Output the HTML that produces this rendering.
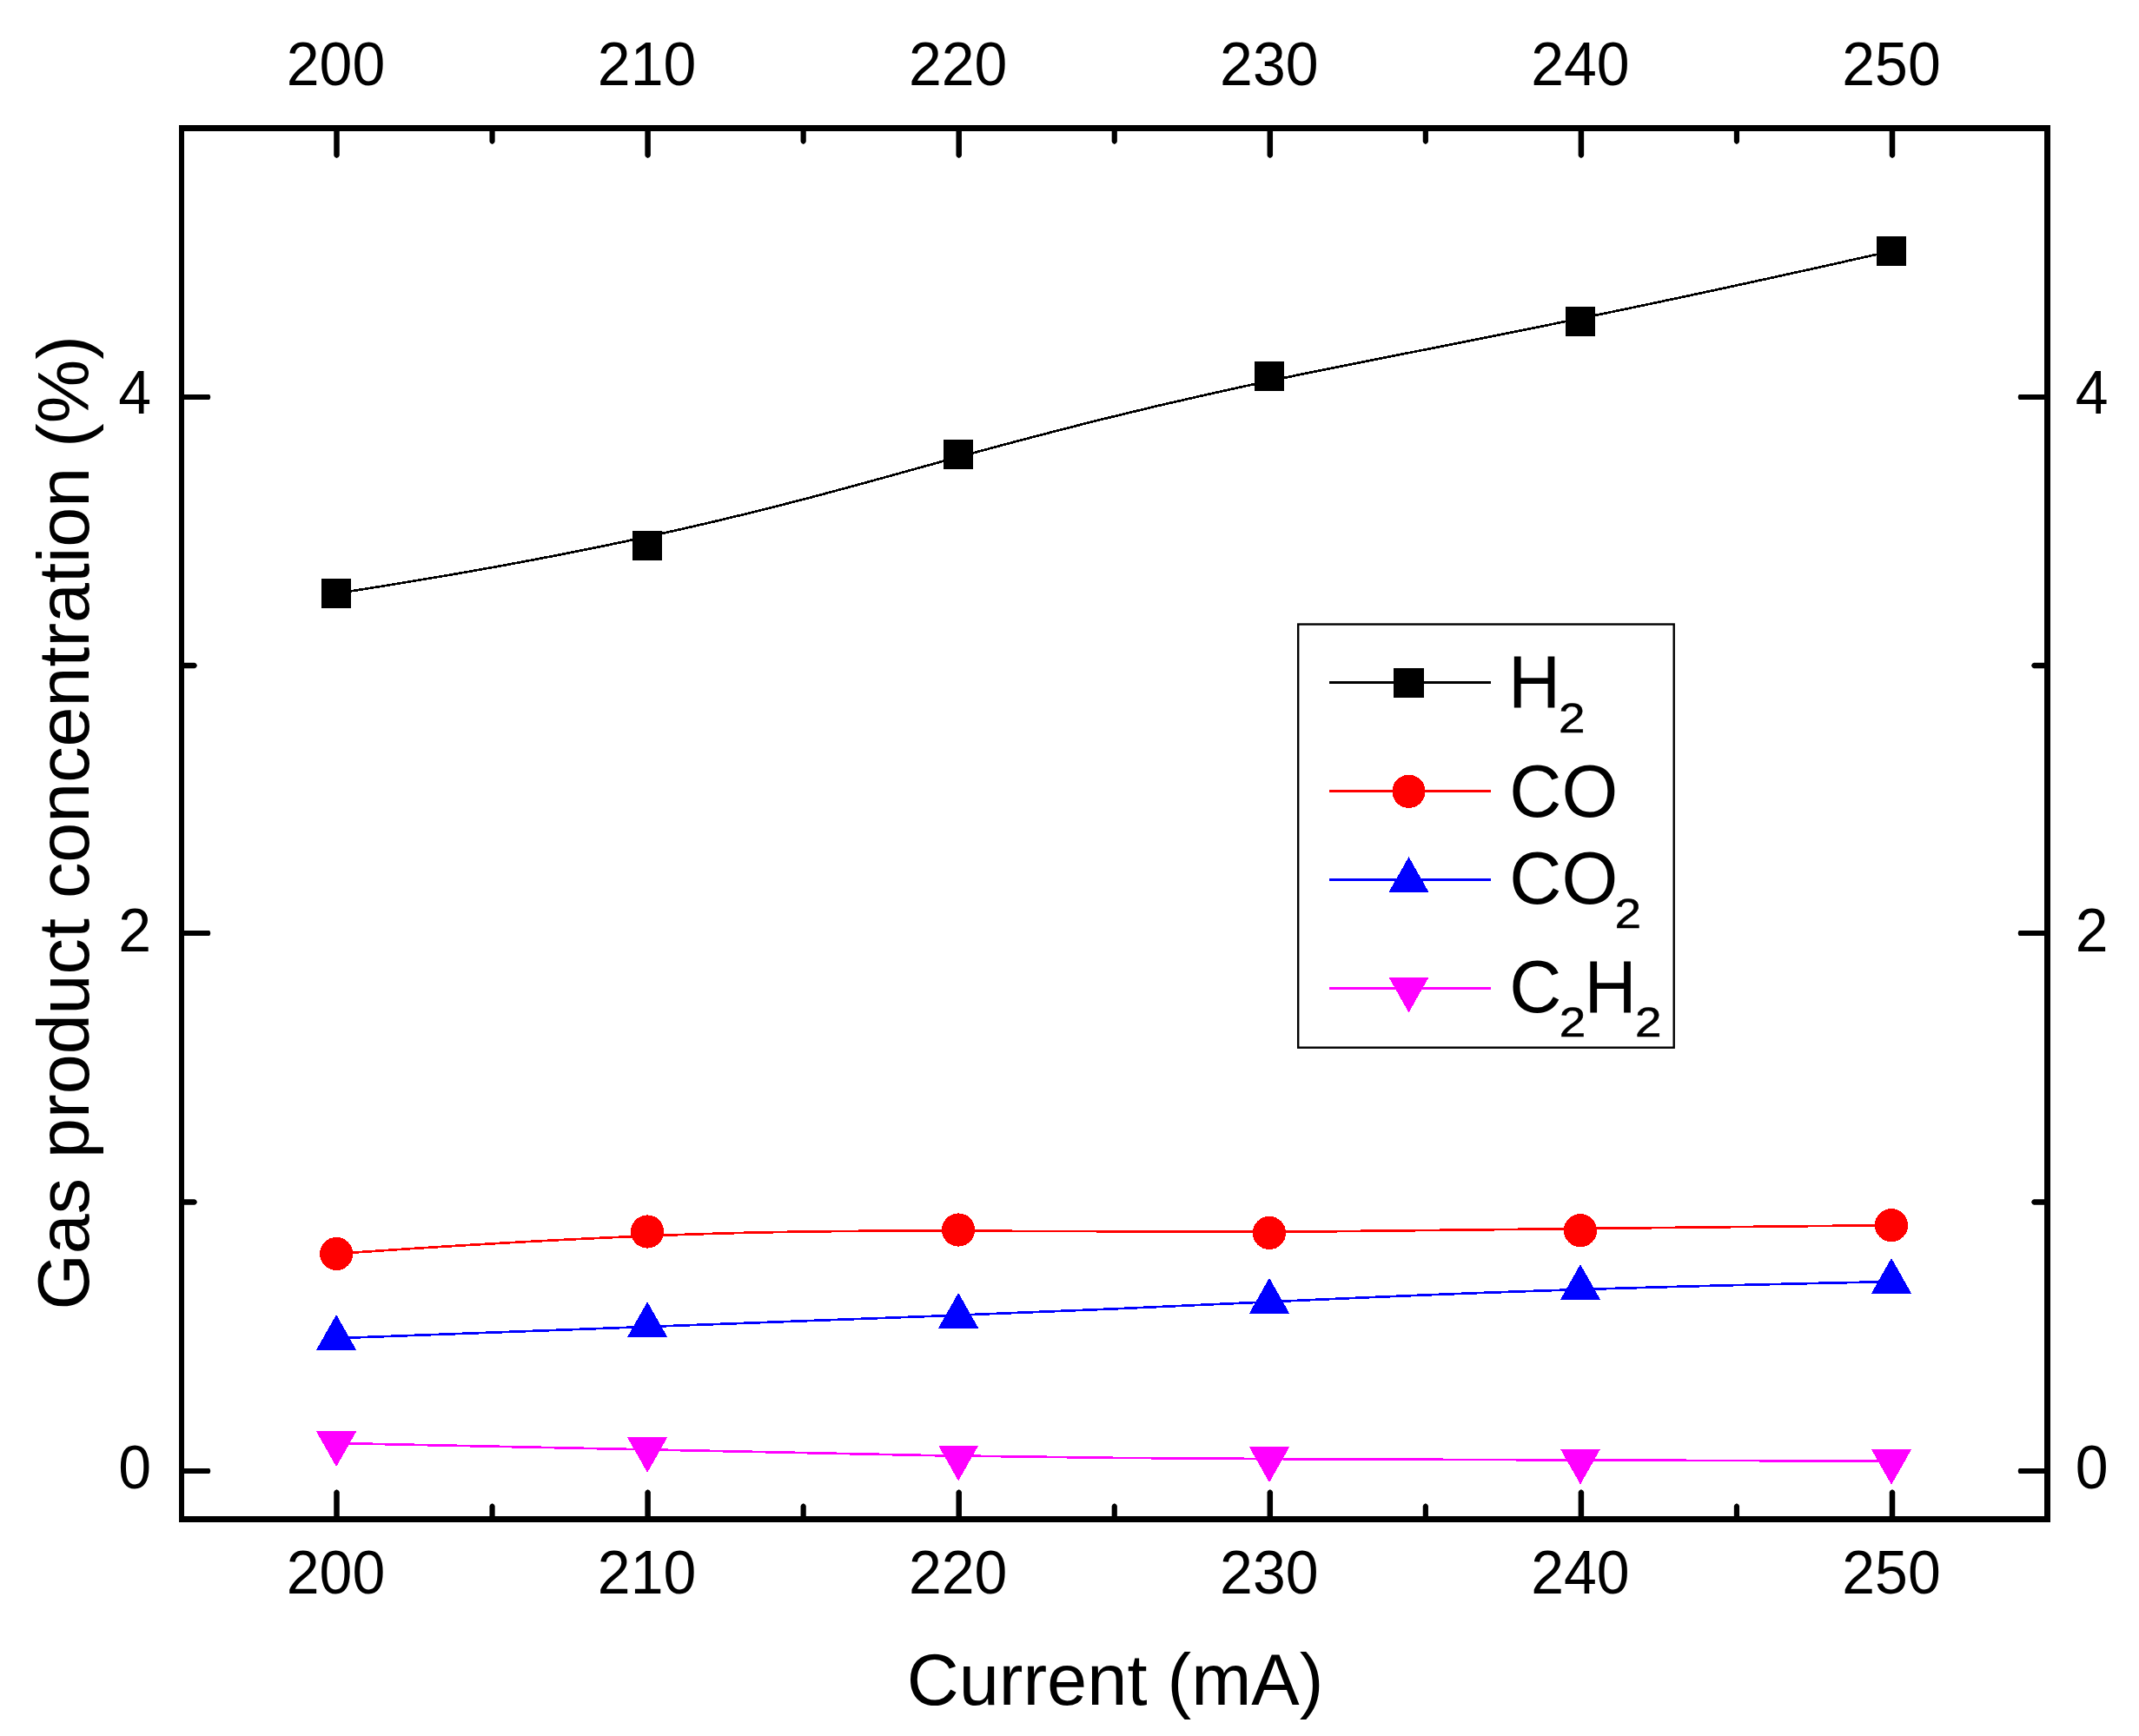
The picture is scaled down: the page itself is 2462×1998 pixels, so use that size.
<!DOCTYPE html>
<html><head><meta charset="utf-8"><title>Gas product concentration vs Current</title>
<style>html,body{margin:0;padding:0;background:#fff}svg{display:block}</style></head>
<body>
<svg width="2462" height="1998" viewBox="0 0 2462 1998" font-family="'Liberation Sans', sans-serif" fill="#000">
<rect x="0" y="0" width="2462" height="1998" fill="#fff"/>
<g shape-rendering="crispEdges">
<path d="M387.10 683.00 C745.08 628.00 924.07 575.45 1073.23 534.19 C1222.39 492.93 1341.71 462.97 1490.87 432.21 C1640.03 401.45 1819.02 369.90 2177.00 289.00" fill="none" stroke="#000" stroke-width="2.7"/>
<rect x="370.0" y="665.9" width="34.2" height="34.2" fill="#000"/>
<rect x="728.0" y="610.9" width="34.2" height="34.2" fill="#000"/>
<rect x="1086.0" y="505.8" width="34.2" height="34.2" fill="#000"/>
<rect x="1443.9" y="415.9" width="34.2" height="34.2" fill="#000"/>
<rect x="1801.9" y="352.8" width="34.2" height="34.2" fill="#000"/>
<rect x="2159.9" y="271.9" width="34.2" height="34.2" fill="#000"/>
<path d="M387.10 1443.00 C745.08 1417.50 924.07 1416.50 1073.23 1416.58 C1222.39 1416.67 1341.71 1417.83 1490.87 1417.69 C1640.03 1417.55 1819.02 1416.10 2177.00 1410.10" fill="none" stroke="#f00" stroke-width="2.7"/>
<circle cx="387.1" cy="1443.0" r="19.1" fill="#f00"/>
<circle cx="745.1" cy="1417.5" r="19.1" fill="#f00"/>
<circle cx="1103.1" cy="1415.5" r="19.1" fill="#f00"/>
<circle cx="1461.0" cy="1419.0" r="19.1" fill="#f00"/>
<circle cx="1819.0" cy="1416.1" r="19.1" fill="#f00"/>
<circle cx="2177.0" cy="1410.1" r="19.1" fill="#f00"/>
<path d="M387.10 1540.20 C745.08 1525.40 924.07 1520.25 1073.23 1514.83 C1222.39 1509.40 1341.71 1503.70 1490.87 1496.93 C1640.03 1490.15 1819.02 1482.30 2177.00 1475.10" fill="none" stroke="#00f" stroke-width="2.7"/>
<polygon points="364.0,1553.8 410.2,1553.8 387.1,1513.0" fill="#00f"/>
<polygon points="722.0,1539.0 768.2,1539.0 745.1,1498.2" fill="#00f"/>
<polygon points="1080.0,1528.7 1126.2,1528.7 1103.1,1487.9" fill="#00f"/>
<polygon points="1437.9,1511.6 1484.1,1511.6 1461.0,1470.8" fill="#00f"/>
<polygon points="1795.9,1495.9 1842.1,1495.9 1819.0,1455.1" fill="#00f"/>
<polygon points="2153.9,1488.7 2200.1,1488.7 2177.0,1447.9" fill="#00f"/>
<path d="M387.10 1661.00 C745.08 1667.70 924.07 1672.45 1073.23 1675.12 C1222.39 1677.80 1341.71 1678.40 1490.87 1679.25 C1640.03 1680.10 1819.02 1681.20 2177.00 1681.70" fill="none" stroke="#f0f" stroke-width="2.7"/>
<polygon points="364.0,1647.4 410.2,1647.4 387.1,1688.2" fill="#f0f"/>
<polygon points="722.0,1654.1 768.2,1654.1 745.1,1694.9" fill="#f0f"/>
<polygon points="1080.0,1663.6 1126.2,1663.6 1103.1,1704.4" fill="#f0f"/>
<polygon points="1437.9,1665.4 1484.1,1665.4 1461.0,1706.2" fill="#f0f"/>
<polygon points="1795.9,1667.6 1842.1,1667.6 1819.0,1708.4" fill="#f0f"/>
<polygon points="2153.9,1668.1 2200.1,1668.1 2177.0,1708.9" fill="#f0f"/>
</g>
<path d="M206 144H2360V1752H206Z M212 151V1745H2353V151Z" fill="#000" fill-rule="evenodd"/>
<path d="M384.25 150V179L385.25 180.80L387.50 182.00L389.75 180.80L390.75 179V150Z M384.25 1746V1717.2L385.25 1715.40L387.50 1714.20L389.75 1715.40L390.75 1717.2V1746Z M563.45 150V163L564.45 164.80L566.55 166.00L568.65 164.80L569.65 163V150Z M563.45 1746V1733.2L564.45 1731.40L566.55 1730.20L568.65 1731.40L569.65 1733.2V1746Z M742.35 150V179L743.35 180.80L745.60 182.00L747.85 180.80L748.85 179V150Z M742.35 1746V1717.2L743.35 1715.40L745.60 1714.20L747.85 1715.40L748.85 1717.2V1746Z M921.55 150V163L922.55 164.80L924.65 166.00L926.75 164.80L927.75 163V150Z M921.55 1746V1733.2L922.55 1731.40L924.65 1730.20L926.75 1731.40L927.75 1733.2V1746Z M1100.45 150V179L1101.45 180.80L1103.70 182.00L1105.95 180.80L1106.95 179V150Z M1100.45 1746V1717.2L1101.45 1715.40L1103.70 1714.20L1105.95 1715.40L1106.95 1717.2V1746Z M1279.65 150V163L1280.65 164.80L1282.75 166.00L1284.85 164.80L1285.85 163V150Z M1279.65 1746V1733.2L1280.65 1731.40L1282.75 1730.20L1284.85 1731.40L1285.85 1733.2V1746Z M1458.55 150V179L1459.55 180.80L1461.80 182.00L1464.05 180.80L1465.05 179V150Z M1458.55 1746V1717.2L1459.55 1715.40L1461.80 1714.20L1464.05 1715.40L1465.05 1717.2V1746Z M1637.75 150V163L1638.75 164.80L1640.85 166.00L1642.95 164.80L1643.95 163V150Z M1637.75 1746V1733.2L1638.75 1731.40L1640.85 1730.20L1642.95 1731.40L1643.95 1733.2V1746Z M1816.65 150V179L1817.65 180.80L1819.90 182.00L1822.15 180.80L1823.15 179V150Z M1816.65 1746V1717.2L1817.65 1715.40L1819.90 1714.20L1822.15 1715.40L1823.15 1717.2V1746Z M1995.85 150V163L1996.85 164.80L1998.95 166.00L2001.05 164.80L2002.05 163V150Z M1995.85 1746V1733.2L1996.85 1731.40L1998.95 1730.20L2001.05 1731.40L2002.05 1733.2V1746Z M2174.75 150V179L2175.75 180.80L2178.00 182.00L2180.25 180.80L2181.25 179V150Z M2174.75 1746V1717.2L2175.75 1715.40L2178.00 1714.20L2180.25 1715.40L2181.25 1717.2V1746Z M211 1689.95H241L241.78 1690.95L242.30 1693.00L241.78 1695.05L241 1696.05H211Z M2354 1689.95H2324L2323.22 1690.95L2322.70 1693.00L2323.22 1695.05L2324 1696.05H2354Z M211 1380.25H224L225.80 1381.25L227.00 1383.50L225.80 1385.75L224 1386.75H211Z M2354 1380.25H2341L2339.20 1381.25L2338.00 1383.50L2339.20 1385.75L2341 1386.75H2354Z M211 1070.95H241L241.78 1071.95L242.30 1074.00L241.78 1076.05L241 1077.05H211Z M2354 1070.95H2324L2323.22 1071.95L2322.70 1074.00L2323.22 1076.05L2324 1077.05H2354Z M211 762.75H224L225.80 763.75L227.00 766.00L225.80 768.25L224 769.25H211Z M2354 762.75H2341L2339.20 763.75L2338.00 766.00L2339.20 768.25L2341 769.25H2354Z M211 453.95H241L241.78 454.95L242.30 457.00L241.78 459.05L241 460.05H211Z M2354 453.95H2324L2323.22 454.95L2322.70 457.00L2323.22 459.05L2324 460.05H2354Z" fill="#000"/>
<g font-size="68">
<text transform="translate(386.5 97.7) scale(1 1.022)" text-anchor="middle">200</text>
<text transform="translate(386.5 1834.1) scale(1 1.022)" text-anchor="middle">200</text>
<text transform="translate(744.6 97.7) scale(1 1.022)" text-anchor="middle">210</text>
<text transform="translate(744.6 1834.1) scale(1 1.022)" text-anchor="middle">210</text>
<text transform="translate(1102.7 97.7) scale(1 1.022)" text-anchor="middle">220</text>
<text transform="translate(1102.7 1834.1) scale(1 1.022)" text-anchor="middle">220</text>
<text transform="translate(1460.8 97.7) scale(1 1.022)" text-anchor="middle">230</text>
<text transform="translate(1460.8 1834.1) scale(1 1.022)" text-anchor="middle">230</text>
<text transform="translate(1818.9 97.7) scale(1 1.022)" text-anchor="middle">240</text>
<text transform="translate(1818.9 1834.1) scale(1 1.022)" text-anchor="middle">240</text>
<text transform="translate(2177.0 97.7) scale(1 1.022)" text-anchor="middle">250</text>
<text transform="translate(2177.0 1834.1) scale(1 1.022)" text-anchor="middle">250</text>
<text transform="translate(174.0 1712.6) scale(1 1.022)" text-anchor="end">0</text>
<text transform="translate(2388.7 1712.6) scale(1 1.022)">0</text>
<text transform="translate(174.0 1094.6) scale(1 1.022)" text-anchor="end">2</text>
<text transform="translate(2388.7 1094.6) scale(1 1.022)">2</text>
<text transform="translate(174.0 476.1) scale(1 1.022)" text-anchor="end">4</text>
<text transform="translate(2388.7 476.1) scale(1 1.022)">4</text>
</g>
<text x="1283.5" y="1961.5" font-size="83" text-anchor="middle">Current (mA)</text>
<text transform="translate(102.2 946.8) rotate(-90)" font-size="82.7" text-anchor="middle">Gas product concentration (%)</text>
<rect x="1494.2" y="718.5" width="432.5" height="487.2" fill="#fff" stroke="#000" stroke-width="2.4"/>
<g shape-rendering="crispEdges">
<path d="M1529.6 785.5 H1715.8" stroke="#000" stroke-width="3" fill="none"/>
<rect x="1604.4" y="768.9" width="34.2" height="34.2" fill="#000"/>
<path d="M1529.6 910.5 H1715.8" stroke="#f00" stroke-width="3" fill="none"/>
<circle cx="1621.5" cy="910.8" r="19.1" fill="#f00"/>
<path d="M1529.6 1012.5 H1715.8" stroke="#00f" stroke-width="3" fill="none"/>
<polygon points="1598.4,1027.0 1644.6,1027.0 1621.5,986.2" fill="#00f"/>
<path d="M1529.6 1137.5 H1715.8" stroke="#f0f" stroke-width="3" fill="none"/>
<polygon points="1598.4,1124.6 1644.6,1124.6 1621.5,1165.4" fill="#f0f"/>
</g>
<text transform="translate(1736.0 813.9) scale(1 1.03)" font-size="83.3">H</text>
<text transform="translate(1794.1 842.8) scale(1.13 1)" font-size="48.6" stroke="#000" stroke-width="0.5">2</text>
<text transform="translate(1737.3 939.6) scale(1 1.03)" font-size="83.3">CO</text>
<text transform="translate(1737.3 1040.4) scale(1 1.03)" font-size="83.3">CO</text>
<text transform="translate(1858.6 1067.8) scale(1.13 1)" font-size="48.6" stroke="#000" stroke-width="0.5">2</text>
<text transform="translate(1737.3 1165.0) scale(1 1.03)" font-size="83.3">C</text>
<text transform="translate(1794.8 1193.2) scale(1.13 1)" font-size="48.6" stroke="#000" stroke-width="0.5">2</text>
<text transform="translate(1823.5 1165.0) scale(1 1.03)" font-size="83.3">H</text>
<text transform="translate(1881.9 1193.2) scale(1.13 1)" font-size="48.6" stroke="#000" stroke-width="0.5">2</text>
</svg>
</body></html>
